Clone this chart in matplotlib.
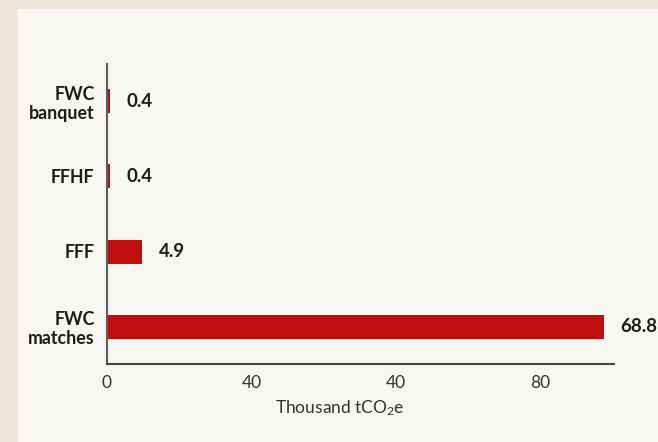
import matplotlib.pyplot as plt
from matplotlib.patches import Rectangle

categories = ['FWC\nmatches', 'FFF', 'FFHF', 'FWC\nbanquet']
values = [68.8, 4.9, 0.4, 0.4]
value_labels = ['68.8', '4.9', '0.4', '0.4']
tick_pos = [0, 20, 40, 60]
tick_labels = ['0', '40', '40', '80']

plt.rcParams['font.family'] = ['Lato', 'DejaVu Sans']
plt.rcParams['mathtext.fontset'] = 'custom'
plt.rcParams['mathtext.rm'] = 'Lato'
plt.rcParams['mathtext.it'] = 'Lato'

RED = '#c00d0e'
TXT = '#1c1c1c'

fig = plt.figure(figsize=(6.58, 4.42), dpi=100)
fig.patch.set_facecolor('#ede6da')
# lighter inner panel, drawn behind the axes
fig.patches.append(Rectangle((18 / 658, 0), 1, 1 - 9 / 442, transform=fig.transFigure,
                             facecolor='#f9f7f2', edgecolor='none', zorder=-10))

ax = fig.add_axes([107 / 658, 1 - 364 / 442, (614 - 107) / 658, 300 / 442])
ax.set_facecolor('none')

ypos = list(range(len(categories)))
ax.barh(ypos, values, height=0.32, color=RED, zorder=2)
for y, v, lab in zip(ypos, values, value_labels):
    ax.annotate(lab, (v, y), xytext=(12, 0), textcoords='offset points',
                va='center', ha='left', fontsize=13.5, fontweight='bold', color=TXT)

ax.set_xlim(0, 70.2)
ax.set_ylim(-0.5, 3.5)
ax.set_yticks(ypos)
ax.set_yticklabels(categories, fontsize=12.8, fontweight='bold', color=TXT, linespacing=1.15)
ax.set_xticks(tick_pos)
ax.set_xticklabels(tick_labels, fontsize=12.5, color='#333333')
ax.tick_params(axis='both', length=0)
ax.tick_params(axis='y', pad=9)
ax.tick_params(axis='x', pad=8)

for s in ['top', 'right']:
    ax.spines[s].set_visible(False)
ax.spines['left'].set_color('#5e5e5e')
ax.spines['bottom'].set_color('#444444')
for s in ['left', 'bottom']:
    ax.spines[s].set_linewidth(1.5)

fig.text(340 / 658, 1 - 408 / 442, 'Thousand tCO$_2$e', ha='center', va='center',
         fontsize=12.5, color='#333333')

fig.savefig('out.png', dpi=100, facecolor=fig.get_facecolor())
